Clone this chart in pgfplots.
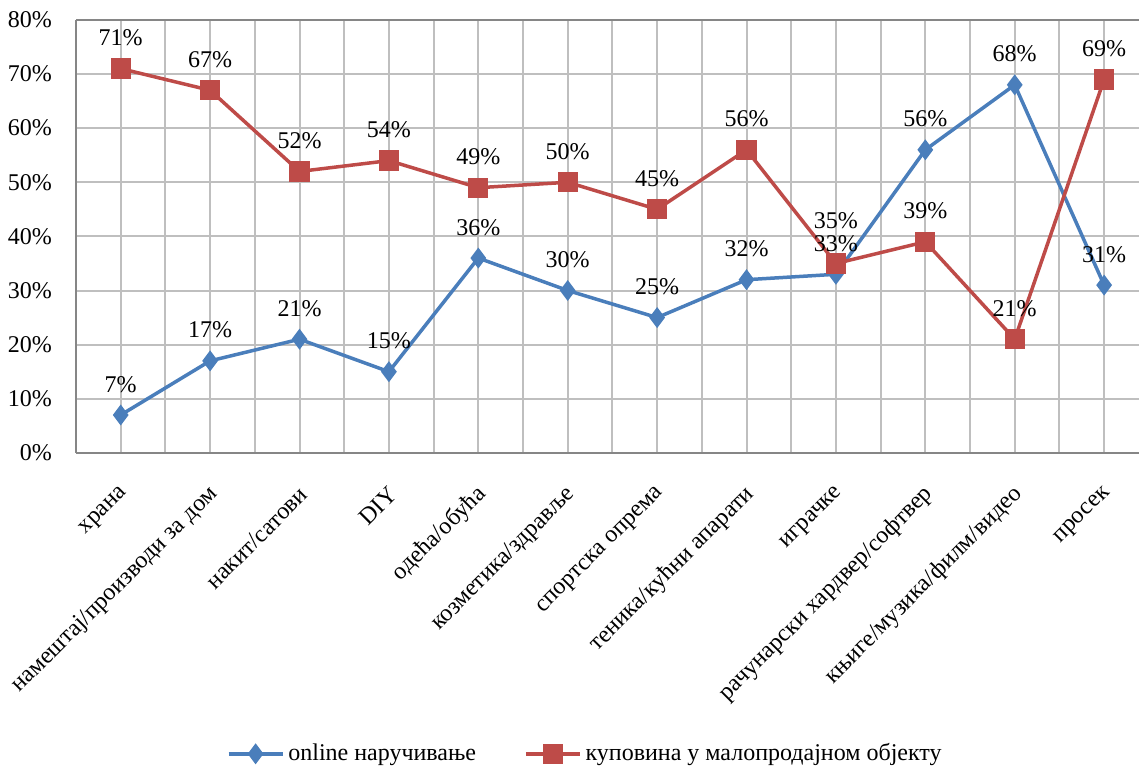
\documentclass[border=0pt]{standalone}
\usepackage{fontspec}
\setmainfont{Liberation Serif}
\usepackage{pgfplots}
\usepackage{pgfplotstable}
\pgfplotsset{compat=1.18}
\definecolor{cblue}{RGB}{74,126,187}
\definecolor{cred}{RGB}{190,75,72}
\definecolor{gridc}{RGB}{191,191,191}
\definecolor{axc}{RGB}{134,134,134}
\pgfplotstableread{
x online don retail dre
0 7 0 71 0
1 17 0 67 0
2 21 0 52 0
3 15 0 54 0
4 36 0 49 0
5 30 0 50 0
6 25 0 45 0
7 32 0 56 0
8 33 0 35 6
9 56 0 39 0
10 68 0 21 0
11 31 0 69 0
}\data
\begin{document}
\begin{tikzpicture}
\begin{axis}[
  scale only axis, width=531.5pt, height=216.5pt,
  xmin=-0.5, xmax=11.39, ymin=0, ymax=80,
  clip=false,
  xtick={0,...,11},
  xticklabels={храна, намештај/производи за дом, накит/сатови, DIY, одећа/обућа, козметика/здравље, спортска опрема, теника/кућни апарати, играчке, рачунарски хардвер/софтвер, књиге/музика/филм/видео, просек},
  minor xtick={-0.5,0.5,...,10.5},
  ytick={0,10,...,80},
  yticklabel={\pgfmathprintnumber{\tick}\%},
  /pgf/number format/assume math mode=true,
  xmajorgrids, xminorgrids, ymajorgrids,
  grid style={gridc, line width=1pt},
  minor grid style={gridc, line width=1pt},
  major tick length=0pt, minor tick length=0pt,
  axis x line*=bottom, axis y line*=left,
  axis line style={axc, line width=1pt, -},
  tick label style={font=\fontsize{12}{14}\selectfont, text=black},
  xticklabel style={xshift=4.5pt, yshift=-16.5pt, rotate=45, anchor=east},
  yticklabel style={xshift=-8.5pt},
  legend style={at={(0.480,-0.695)}, anchor=center, draw=none, fill=none,
    legend columns=-1, font=\fontsize{12}{14}\selectfont,
    /tikz/every even column/.append style={column sep=22pt}},
  legend image code/.code={\draw[mark repeat=2,mark phase=2,#1] plot coordinates {(0pt,0pt) (13.5pt,0pt) (27pt,0pt)};},
  every node near coord/.append style={anchor=base, text=black, font=\fontsize{12}{14}\selectfont},
]
\addplot[cblue, line width=1.75pt, mark=diamond*, mark size=3.8pt, mark options={solid},
  point meta=explicit,
  nodes near coords={\pgfmathprintnumber{\pgfplotspointmeta}\%},
  visualization depends on={\thisrow{don} \as \dy},
  every node near coord/.append style={yshift=11.5pt+\dy pt}]
  table[x=x, y=online, meta=online]{\data};
\addlegendentry{online наручивање}
\addplot[cred, line width=1.75pt, mark=square*, mark size=4.2pt, mark options={solid},
  point meta=explicit,
  nodes near coords={\pgfmathprintnumber{\pgfplotspointmeta}\%},
  visualization depends on={\thisrow{dre} \as \dy},
  every node near coord/.append style={yshift=11.5pt+\dy pt}]
  table[x=x, y=retail, meta=retail]{\data};
\addlegendentry{куповина у малопродајном објекту}
\draw[axc, line width=1pt] (rel axis cs:0,1) -- (rel axis cs:1,1);
\coordinate (bl) at (rel axis cs:-0.0715,-0.732);
\coordinate (tr) at (rel axis cs:1,1.046);
\end{axis}
\pgfresetboundingbox
\path[use as bounding box] (bl) rectangle (tr);
\end{tikzpicture}
\end{document}
